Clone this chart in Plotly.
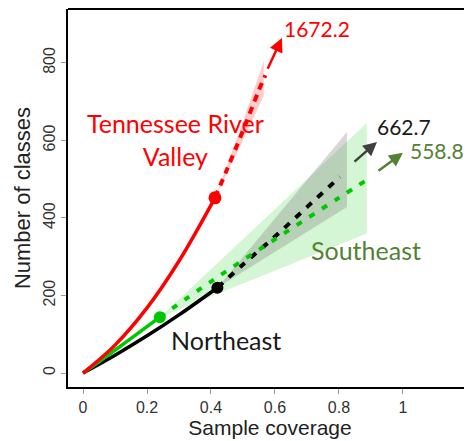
import plotly.graph_objects as go

# ---- data ----
tn_obs_x = [0, 0.1, 0.2, 0.3, 0.4125]
tn_obs_y = [0, 72, 168, 289, 452]
tn_ext_x = [0.4125, 0.45, 0.5, 0.55, 0.57]
tn_ext_y = [452, 525, 625, 730, 768]
tn_band_x = [0.4125, 0.5, 0.565]
tn_band_lo = [452, 600, 715]
tn_band_hi = [452, 648, 805]

ne_obs_x = [0, 0.1, 0.2, 0.3, 0.42]
ne_obs_y = [0, 46, 96, 150, 220]
ne_ext_x = [0.42, 0.5, 0.6, 0.7, 0.803]
ne_ext_y = [220, 280, 352, 428, 506]
ne_band_x = [0.42, 0.825]
ne_band_lo = [220, 428]
ne_band_hi = [220, 622]

se_obs_x = [0, 0.12, 0.24]
se_obs_y = [0, 71, 144]
se_ext_x = [0.24, 0.4, 0.6, 0.8, 0.887]
se_ext_y = [144, 236, 345, 452, 498]
se_band_x = [0.24, 0.887]
se_band_lo = [144, 360]
se_band_hi = [144, 645]

asymptotes = {"tn": "1672.2", "ne": "662.7", "se": "558.8"}
x_ticks = [0, 0.2, 0.4, 0.6, 0.8, 1]
x_ticktext = ["0", "0.2", "0.4", "0.6", "0.8", "1"]
y_ticks = [0, 200, 400, 600, 800]

RED = "#ff0000"
GREEN = "#00c800"
DKGREEN = "#548235"
BLACK = "#000000"

fig = go.Figure()

def band(x, lo, hi, color):
    fig.add_trace(go.Scatter(x=x + x[::-1], y=hi + lo[::-1], fill="toself",
                             fillcolor=color, line=dict(width=0), mode="lines",
                             hoverinfo="skip", showlegend=False))

band(se_band_x, se_band_lo, se_band_hi, "rgba(0,200,0,0.17)")
band(ne_band_x, ne_band_lo, ne_band_hi, "rgba(110,110,110,0.28)")
band(tn_band_x, tn_band_lo, tn_band_hi, "rgba(255,0,0,0.2)")

def curve(x, y, color, dash, width=4):
    fig.add_trace(go.Scatter(x=x, y=y, mode="lines",
                             line=dict(color=color, width=width, dash=dash, shape="spline"),
                             showlegend=False))

curve(ne_ext_x, ne_ext_y, BLACK, "7px,8px")
curve(se_ext_x, se_ext_y, GREEN, "6px,9px")
curve(tn_ext_x, tn_ext_y, RED, "7px,6px")
curve(ne_obs_x, ne_obs_y, BLACK, "solid", 3.5)
curve(se_obs_x, se_obs_y, GREEN, "solid", 3.5)
curve(tn_obs_x, tn_obs_y, RED, "solid", 3.5)

fig.add_trace(go.Scatter(x=[ne_obs_x[-1]], y=[ne_obs_y[-1]], mode="markers",
                         marker=dict(color=BLACK, size=12), showlegend=False))
fig.add_trace(go.Scatter(x=[se_obs_x[-1]], y=[se_obs_y[-1]], mode="markers",
                         marker=dict(color=GREEN, size=12), showlegend=False))
fig.add_trace(go.Scatter(x=[tn_obs_x[-1]], y=[tn_obs_y[-1]], mode="markers",
                         marker=dict(color=RED, size=13), showlegend=False))

LBL = "Lato, 'Open Sans', sans-serif"
ann = []
def arrow(x, y, ax, ay, color):
    ann.append(dict(x=x, y=y, ax=ax, ay=ay, xref="x", yref="y", axref="x", ayref="y",
                    text="", showarrow=True, arrowhead=2, arrowsize=1.1,
                    arrowwidth=2.5, arrowcolor=color))

arrow(0.622, 864, 0.575, 781, RED)
arrow(0.919, 596, 0.844, 542, "#404040")
arrow(1.0, 568, 0.919, 519, DKGREEN)

def label(x, y, text, color, size):
    ann.append(dict(x=x, y=y, xref="x", yref="y", text=text, showarrow=False,
                    font=dict(family=LBL, size=size, color=color)))

label(0.2875, 603, "Tennessee River<br>Valley", RED, 25)
label(0.447, 85, "Northeast", "#1a1a1a", 25)
label(0.885, 317, "Southeast", DKGREEN, 25)
label(0.731, 890, asymptotes["tn"], RED, 21)
label(1.003, 635, asymptotes["ne"], "#1a1a1a", 21)
label(1.106, 575, asymptotes["se"], DKGREEN, 21)

# the page body adds an 8px offset, so the figure is 8px smaller than the window
fig.update_layout(
    width=464, height=433,
    margin=dict(l=60, r=0, t=1, b=54),
    paper_bgcolor="white", plot_bgcolor="white",
    font=dict(family="Liberation Sans, Arial, sans-serif", color="#222"),
    annotations=ann,
    shapes=[dict(type="line", xref="paper", yref="paper", x0=0, x1=1, y0=1, y1=1,
                 line=dict(color="black", width=2))],
    showlegend=False,
)
fig.update_xaxes(range=[-0.047, 1.216], tickvals=x_ticks, ticktext=x_ticktext,
                 showgrid=False, zeroline=False, showline=True, linecolor="black",
                 linewidth=2, ticks="outside", ticklen=5, tickcolor="#999",
                 tickfont=dict(size=16, color="#333"),
                 title=dict(text="Sample coverage", font=dict(size=21, color="#222"), standoff=2))
fig.update_yaxes(range=[-36, 939], tickvals=y_ticks, tickangle=-90,
                 showgrid=False, zeroline=False, showline=True, linecolor="black",
                 linewidth=2, ticks="outside", ticklen=5, tickcolor="#999",
                 tickfont=dict(size=16, color="#333"),
                 title=dict(text="Number of classes", font=dict(size=22, color="#222"), standoff=4))

fig.write_html("out.html")
